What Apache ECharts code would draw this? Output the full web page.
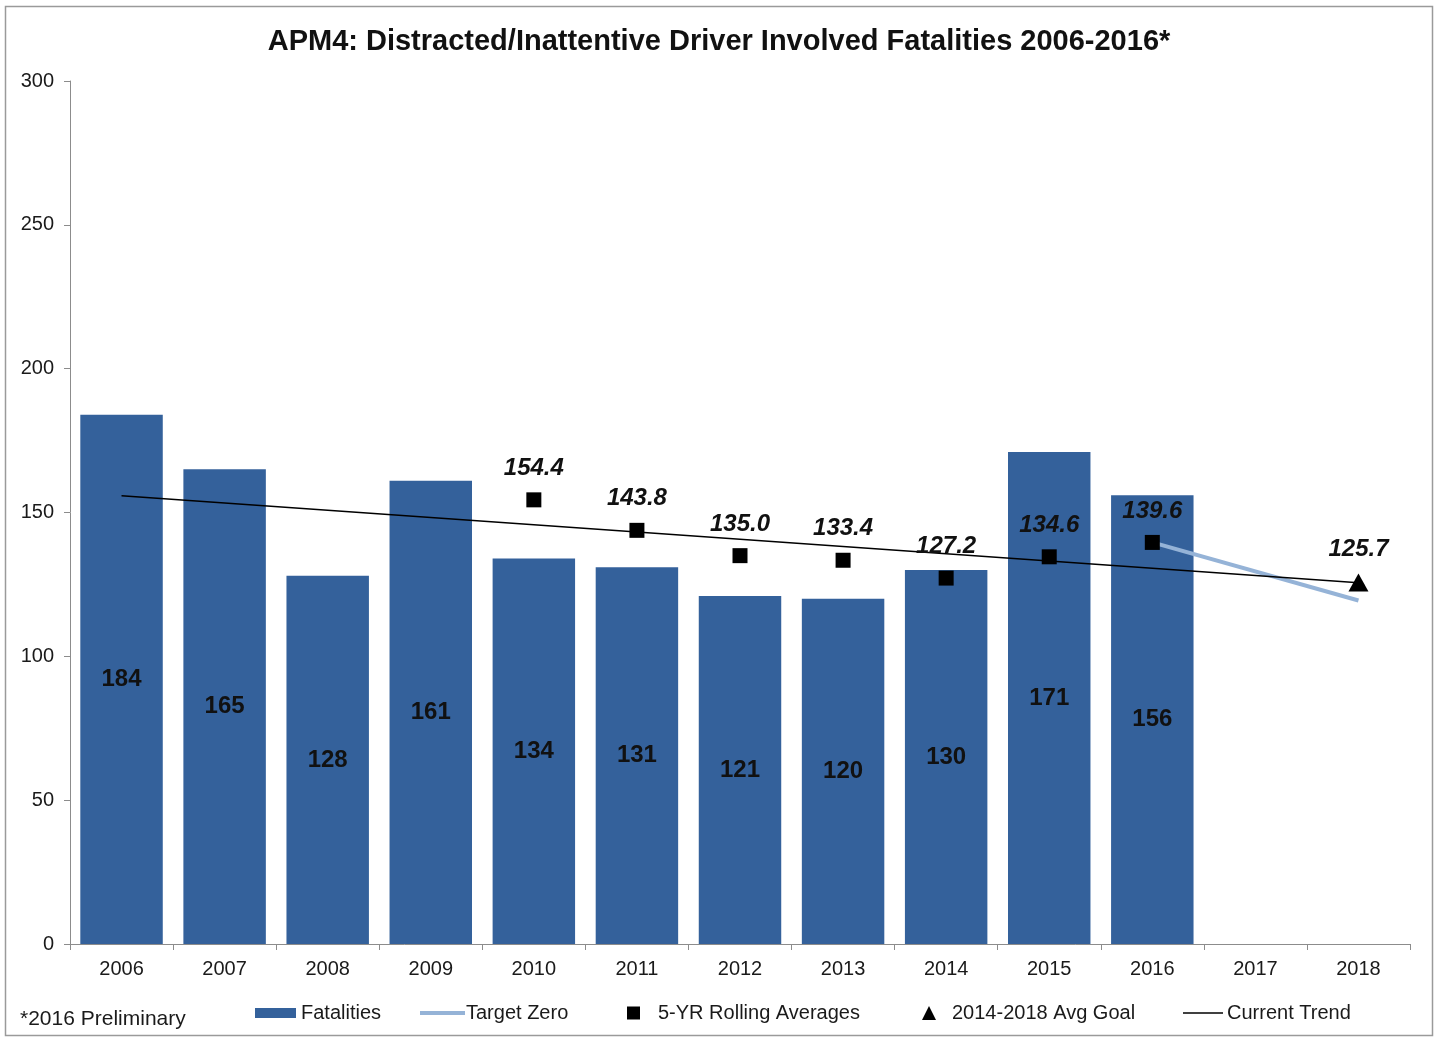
<!doctype html>
<html>
<head>
<meta charset="utf-8">
<title>APM4 Distracted Driver Fatalities</title>
<script src="https://cdn.jsdelivr.net/npm/echarts@6/dist/echarts.min.js"></script>
<style>
  body { margin: 0; background: #fff; }
  #chart { width: 1438px; height: 1040px; }
</style>
</head>
<body>
<div id="chart"></div>
<script>
// data
var years = ['2006','2007','2008','2009','2010','2011','2012','2013','2014','2015','2016','2017','2018'];
var fatalities = [184, 165, 128, 161, 134, 131, 121, 120, 130, 171, 156, null, null];
var rollingAvg = [null, null, null, null, 154.4, 143.8, 135.0, 133.4, 127.2, 134.6, 139.6, null, null];
var targetZero = [null, null, null, null, null, null, null, null, null, null, 139.6, null, 119.4];
var avgGoal = [null, null, null, null, null, null, null, null, null, null, null, null, 125.7];
var currentTrend = [155.8, null, null, null, null, null, null, null, null, null, null, null, 125.6];
var yTicks = [0, 50, 100, 150, 200, 250, 300];

var font = '"Liberation Sans", Arial, sans-serif';
var chart = echarts.init(document.getElementById('chart'));

// one legend per entry so each icon can have its own size
function legendAt(name, icon, left, w, h, gap) {
  return {
    data: [{ name: name, icon: icon }], left: left, top: 998, itemWidth: w, itemHeight: h,
    textStyle: { fontFamily: font, fontSize: 20, color: '#1a1a1a', padding: [0, 0, 0, gap] }
  };
}

var ptLabel = {
  show: true, position: 'top', distance: 12,
  fontFamily: font, fontSize: 24, fontWeight: 'bold', fontStyle: 'italic', color: '#111',
  formatter: function (p) { return p.value == null ? '' : Number(p.value).toFixed(1); }
};

var option = {
  backgroundColor: '#fff',
  animation: false,
  title: {
    text: 'APM4: Distracted/Inattentive Driver Involved Fatalities 2006-2016*',
    left: 'center', top: 22,
    textStyle: { fontFamily: font, fontSize: 29, fontWeight: 'bold', color: '#111' }
  },
  graphic: [
    { type: 'rect', shape: { x: 5.5, y: 6.5, width: 1427, height: 1029 },
      style: { fill: 'none', stroke: '#9a9a9a', lineWidth: 1.5 }, silent: true },
    { type: 'text', left: 20, top: 1009,
      style: { text: '*2016 Preliminary', fontFamily: font, fontSize: 21, fill: '#1a1a1a' } }
  ],
  legend: [
    legendAt('Fatalities', 'rect', 250, 41, 10, 0),
    legendAt('Target Zero', 'rect', 415, 45, 4, -4),
    legendAt('5-YR Rolling Averages', 'rect', 622, 13, 13, 13),
    legendAt('2014-2018 Avg Goal', 'triangle', 917, 14, 14, 11),
    legendAt('Current Trend', 'rect', 1178, 40, 1.5, -1)
  ],
  grid: { left: 70, right: 28, top: 81, bottom: 96 },
  xAxis: {
    type: 'category', data: years,
    axisLine: { lineStyle: { color: '#8c8c8c', width: 1 } },
    axisTick: { show: true, length: 6, interval: 0, lineStyle: { color: '#8c8c8c' } },
    axisLabel: { fontFamily: font, fontSize: 20, color: '#1a1a1a', margin: 15 }
  },
  yAxis: {
    type: 'value', min: 0, max: 300, interval: 50,
    axisLine: { show: true, lineStyle: { color: '#8c8c8c', width: 1 } },
    axisTick: { show: true, length: 6, lineStyle: { color: '#8c8c8c' } },
    splitLine: { show: false },
    axisLabel: {
      fontFamily: font, fontSize: 20, color: '#1a1a1a', margin: 16,
      formatter: function (v) { return yTicks.indexOf(v) >= 0 ? String(v) : ''; }
    }
  },
  series: [
    {
      name: 'Fatalities', type: 'bar', data: fatalities, barCategoryGap: '20%',
      itemStyle: { color: '#34619b' },
      label: { show: true, position: 'inside', fontFamily: font, fontSize: 24, fontWeight: 'bold', color: '#111' },
      z: 1
    },
    {
      name: 'Target Zero', type: 'line', data: targetZero, connectNulls: true, symbol: 'none',
      lineStyle: { color: '#95b3d7', width: 4 }, itemStyle: { color: '#95b3d7' }, z: 3
    },
    {
      name: 'Current Trend', type: 'line', data: currentTrend, connectNulls: true, symbol: 'none',
      lineStyle: { color: '#000', width: 1.5 }, itemStyle: { color: '#000' }, z: 4
    },
    {
      name: '5-YR Rolling Averages', type: 'scatter', data: rollingAvg, symbol: 'rect', symbolSize: 15,
      itemStyle: { color: '#000', opacity: 1 }, label: ptLabel, z: 5
    },
    {
      name: '2014-2018 Avg Goal', type: 'scatter', data: avgGoal, symbol: 'triangle', symbolSize: [20, 18],
      itemStyle: { color: '#000', opacity: 1 }, label: ptLabel, z: 5
    }
  ]
};
chart.setOption(option);
</script>
</body>
</html>
